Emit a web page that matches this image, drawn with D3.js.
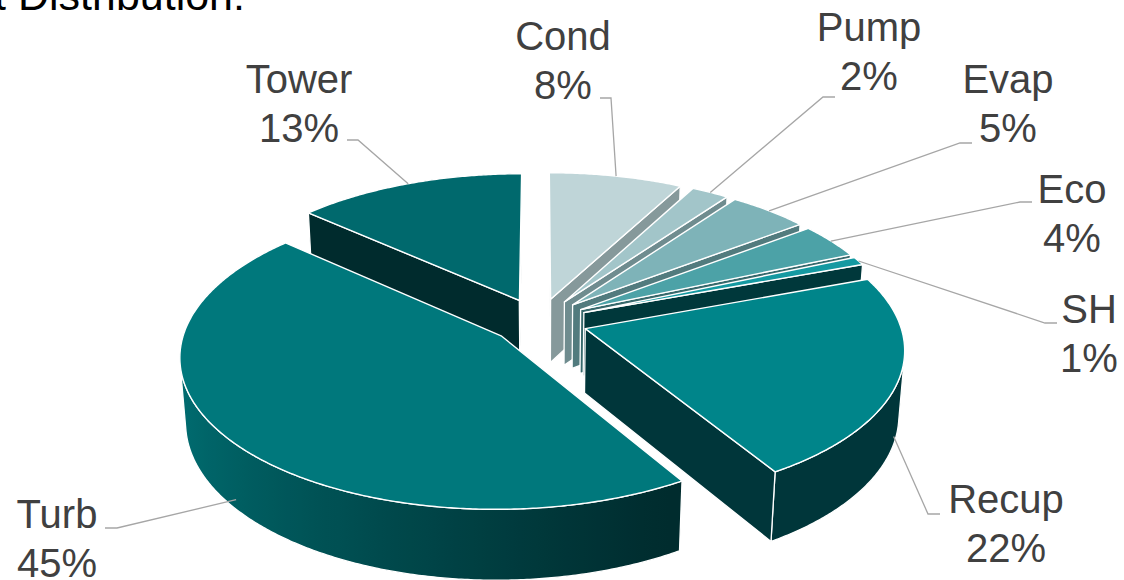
<!DOCTYPE html>
<html><head><meta charset="utf-8">
<script src="https://cdn.jsdelivr.net/npm/d3@7"></script>
<style>body{margin:0;background:#fff;} svg{display:block;}</style>
</head><body>
<svg id="c" width="1124" height="580"></svg>
<script>
// ---- data (shares in %, labels show rounded values) ----
const categories = ["Cond","Pump","Evap","Eco","SH","Recup","Turb","Tower"];
const values = [7.8,2.2,4.7,3.8,0.9,21.9,45.3,13.4];
const percentLabels = values.map(v => Math.round(v) + "%");
const titleText = "Cost Distribution:";

// ---- styles ----
const topColors  = ["#BFD5D8","#A2C5C9","#7EB3B8","#4CA2A7","#1499A1","#00858A","#00787C","#00696D"];
const sideColors = ["#86999B","#6F8C8F","#527B7E","#37696C","#00383B","#00363A","#002D2F","#002B2D"];
const wallLight  = ["#9FB3B5","#86A3A6","#5F8E92","#3C7F83","#005C60","#00585C","#007074","#005C60"];
const wallDark   = ["#86999B","#6F8C8F","#527B7E","#37696C","#00383B","#00363A","#002C2E","#002B2D"];

// label layout: center x, first baseline, stub from -> to
const labelLayout = [
  {x:563, y:50,  s:[[600,98],[611,98]]},
  {x:869, y:41,  s:[[835,97],[823,97]]},
  {x:1008,y:93,  s:[[972,143],[960,143]]},
  {x:1072,y:203, s:[[1032,202],[1020,202]]},
  {x:1089,y:323, s:[[1057,323],[1045,323]]},
  {x:1006,y:513, s:[[940,514],[928,514]]},
  {x:57,  y:528, s:[[105,528],[117,528]]},
  {x:299, y:93,  s:[[347,140],[358,140]]}
];

// ---- 3D projection ----
const G = {cx:539, cy:321, F:2198, L:7, sa:0.47, H:0.235, e:0.155};
G.ca = Math.sqrt(1 - G.sa*G.sa);
function proj(p){
  const [X,Y,Z] = p;
  const depth = G.L - Y*G.ca - Z*G.sa;
  const v = -Y*G.sa + Z*G.ca;
  return [G.cx + G.F*X/depth, G.cy - G.F*v/depth];
}
function depthOf(p){ return G.L - p[1]*G.ca - p[2]*G.sa; }
const cam = [0, G.L*G.ca, G.L*G.sa];
function facing(P, n){ return (cam[0]-P[0])*n[0] + (cam[1]-P[1])*n[1] + (cam[2]-P[2])*n[2] > 0; }

const svg = d3.select("#c");
const defs = svg.append("defs");
const line = d3.line();

const arcs = d3.pie().sort(null).value(d=>d)(values);

const slices = arcs.map((a,i)=>{
  const a0=a.startAngle, a1=a.endAngle, m=(a0+a1)/2;
  const ox = G.e*Math.sin(m), oy = -G.e*Math.cos(m);
  const pt = (t,r,z)=>[ox + r*Math.sin(t), oy - r*Math.cos(t), z];
  const c = pt(m, 0.5, -G.H/2);
  return {i, a0, a1, m, ox, oy, pt, depth: depthOf(c)};
});

const lx=-0.958, ly=-0.287;
function shade(i,t){
  const nx=Math.sin(t), ny=-Math.cos(t);
  const d = nx*lx + ny*ly;
  const f = Math.max(0, Math.min(1, (d+0.7)/1.65));
  return d3.interpolateRgb(wallDark[i], wallLight[i])(f);
}

const gPie = svg.append("g");
const order = slices.slice().sort((a,b)=>b.depth-a.depth);
order.forEach(s=>{
  const g = gPie.append("g");
  const i = s.i;
  const n = Math.max(2, Math.ceil((s.a1-s.a0)/(Math.PI/360)));
  const ts = d3.range(n+1).map(k=>s.a0 + (s.a1-s.a0)*k/n);
  // curved wall runs
  let runs=[], cur=null;
  for(let k=0;k<n;k++){
    const t=(ts[k]+ts[k+1])/2;
    const P=s.pt(t,1,0);
    const vis = facing(P,[Math.sin(t),-Math.cos(t),0]);
    if(vis){ if(!cur){cur=[k]; runs.push(cur);} cur[1]=k+1; } else cur=null;
  }
  runs.forEach((r,ri)=>{
    const sub = ts.slice(r[0], r[1]+1);
    const top = sub.map(t=>proj(s.pt(t,1,0)));
    const bot = sub.map(t=>proj(s.pt(t,1,-G.H))).reverse();
    const id = `gw${i}_${ri}`;
    const x1 = top[0][0], x2 = top[top.length-1][0];
    const gr = defs.append("linearGradient").attr("id",id)
      .attr("gradientUnits","userSpaceOnUse")
      .attr("x1",x1).attr("y1",0).attr("x2",Math.abs(x2-x1)<1?x1+1:x2).attr("y2",0);
    const step = Math.max(1, Math.floor(sub.length/40));
    sub.forEach((t,k)=>{
      if(k%step && k!==sub.length-1) return;
      const off = Math.abs(x2-x1)<1?0:(top[k][0]-x1)/(x2-x1);
      gr.append("stop").attr("offset",Math.max(0,Math.min(1,off))).attr("stop-color",shade(i,t));
    });
    g.append("path").attr("d", line(top.concat(bot))+"Z")
      .attr("fill",`url(#${id})`).attr("stroke","#fff").attr("stroke-width",1.3).attr("stroke-linejoin","round");
  });
  // radial walls
  const apex=[s.ox,s.oy,0];
  [[s.a0,-1],[s.a1,1]].forEach(([t,sg])=>{
    const nrm=[sg*Math.cos(t), sg*Math.sin(t), 0];
    if(!facing(apex,nrm)) return;
    const q=[s.pt(t,0,0), s.pt(t,1,0), s.pt(t,1,-G.H), s.pt(t,0,-G.H)].map(proj);
    g.append("path").attr("d", line(q)+"Z")
      .attr("fill",sideColors[i]).attr("stroke","#fff").attr("stroke-width",1.3).attr("stroke-linejoin","round");
  });
  // top face
  const face=[proj(apex)].concat(ts.map(t=>proj(s.pt(t,1,0))));
  g.append("path").attr("d", line(face)+"Z")
    .attr("fill",topColors[i]).attr("stroke","#fff").attr("stroke-width",1.4).attr("stroke-linejoin","round");
});

// leader lines & labels
const gLab = svg.append("g");
slices.forEach(s=>{
  const i=s.i, L=labelLayout[i];
  const P = s.pt(s.m,1,0);
  const vis = facing(P,[Math.sin(s.m),-Math.cos(s.m),0]);
  const anchor = proj(s.pt(s.m,1, vis? -0.85*G.H : 0));
  gLab.append("path").attr("d", line([L.s[0], L.s[1], anchor]))
    .attr("fill","none").attr("stroke","#A6A6A6").attr("stroke-width",1.3);
  const t = gLab.append("text").attr("text-anchor","middle")
    .attr("font-family","'Liberation Sans', Arial, sans-serif").attr("font-size",40).attr("fill","#404040");
  t.append("tspan").attr("x",L.x).attr("y",L.y).text(categories[i]);
  t.append("tspan").attr("x",L.x).attr("y",L.y+49).text(percentLabels[i]);
});

svg.append("text").attr("x",245).attr("y",10).attr("text-anchor","end")
  .attr("font-family","'Liberation Sans', Arial, sans-serif").attr("font-size",43).attr("fill","#000")
  .text(titleText);
</script>
</body></html>
